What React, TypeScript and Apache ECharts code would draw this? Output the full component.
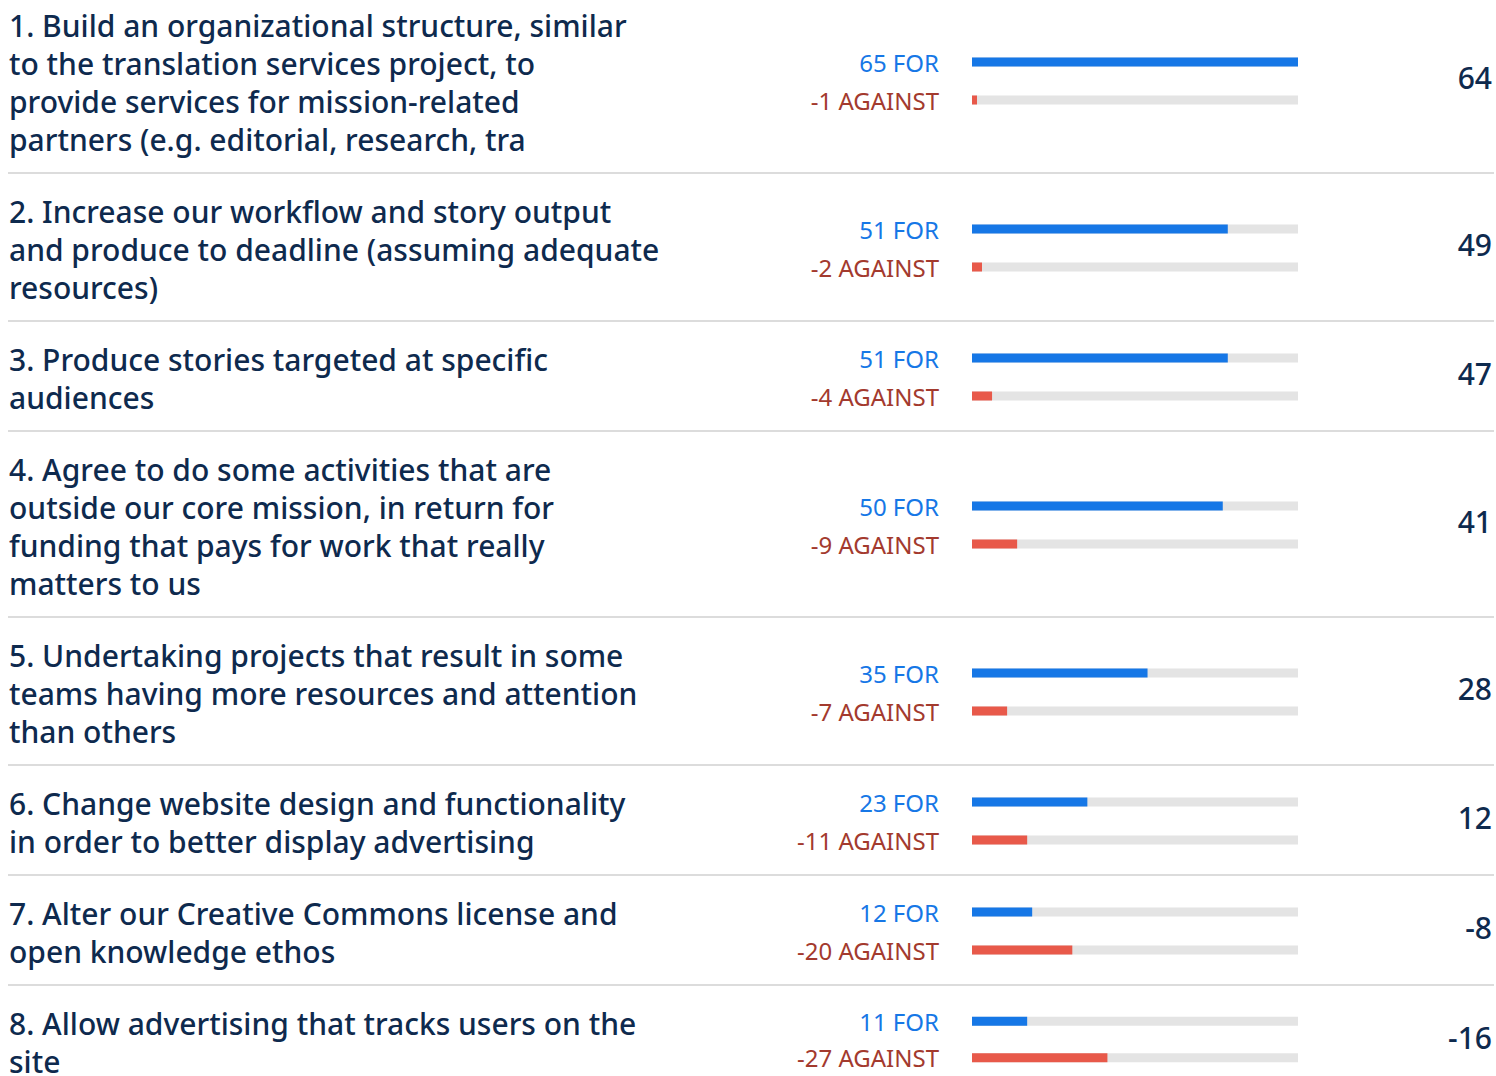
import React, { useEffect, useRef } from 'react';
import * as echarts from 'echarts';

const questions = [
  '1. Build an organizational structure, similar\nto the translation services project, to\nprovide services for mission-related\npartners (e.g. editorial, research, tra',
  '2. Increase our workflow and story output\nand produce to deadline (assuming adequate\nresources)',
  '3. Produce stories targeted at specific\naudiences',
  '4. Agree to do some activities that are\noutside our core mission, in return for\nfunding that pays for work that really\nmatters to us',
  '5. Undertaking projects that result in some\nteams having more resources and attention\nthan others',
  '6. Change website design and functionality\nin order to better display advertising',
  '7. Alter our Creative Commons license and\nopen knowledge ethos',
  '8. Allow advertising that tracks users on the\nsite',
];
const forVotes = [65, 51, 51, 50, 35, 23, 12, 11];
const againstVotes = [1, 2, 4, 9, 7, 11, 20, 27];
const voteCategories = ['FOR', 'AGAINST'];
const maxVotes = 65;

const FONT = '"Noto Sans", "Open Sans", sans-serif';
const NAVY = '#0e2a4e';
const BLUE = '#1677e6';
const RED = '#e8594a';
const DARKRED = '#a33a2e';
const TRACK = '#e4e4e4';

const LINE_H = 38;
const PAD_TOP = 19;
const PAD_BOTTOM = 15;
const START_Y = -13;

export default function App() {
  const ref = useRef<HTMLDivElement>(null);
  useEffect(() => {
    document.body.style.margin = '0';
    const chart = echarts.init(ref.current!, null, { renderer: 'svg' });

    const tops: number[] = [];
    const heights: number[] = [];
    let y = START_Y;
    questions.forEach((q) => {
      const n = q.split('\n').length;
      const h = PAD_TOP + n * LINE_H + PAD_BOTTOM;
      tops.push(y);
      heights.push(h);
      y += h;
    });

    const grids: any[] = [];
    const xAxes: any[] = [];
    const yAxes: any[] = [];
    const series: any[] = [];
    const graphics: any[] = [];

    questions.forEach((q, i) => {
      const cy = tops[i] + heights[i] / 2;
      grids.push({ left: 972, width: 326, top: cy - 37, height: 76 });
      xAxes.push({ type: 'value', gridIndex: i, min: 0, max: maxVotes, show: false });
      yAxes.push({
        type: 'category',
        gridIndex: i,
        data: voteCategories,
        inverse: true,
        axisLine: { show: false },
        axisTick: { show: false },
        splitLine: { show: false },
        axisLabel: {
          margin: 33,
          formatter: (_v: string, idx: number) =>
            idx === 0 ? `{f|${forVotes[i]} FOR}` : `{a|-${againstVotes[i]} AGAINST}`,
          rich: {
            f: { color: BLUE, fontSize: 24, fontFamily: FONT },
            a: { color: DARKRED, fontSize: 24, fontFamily: FONT },
          },
        },
      });
      series.push({
        type: 'bar',
        xAxisIndex: i,
        yAxisIndex: i,
        barWidth: 9,
        silent: true,
        showBackground: true,
        backgroundStyle: { color: TRACK },
        data: [
          { value: forVotes[i], itemStyle: { color: BLUE } },
          { value: againstVotes[i], itemStyle: { color: RED } },
        ],
      });
      graphics.push({
        type: 'text',
        left: 9,
        top: tops[i] + PAD_TOP,
        style: {
          text: q,
          fill: NAVY,
          font: `500 30px ${FONT}`,
          lineHeight: LINE_H,
        },
      });
      graphics.push({
        type: 'text',
        right: 4,
        top: cy - 18,
        style: {
          text: String(forVotes[i] - againstVotes[i]),
          fill: NAVY,
          font: `500 30px ${FONT}`,
          textAlign: 'right',
        },
      });
      if (i > 0) {
        graphics.push({
          type: 'line',
          shape: { x1: 8, y1: tops[i], x2: 1494, y2: tops[i] },
          style: { stroke: '#dcdcdc', lineWidth: 2 },
        });
      }
    });

    chart.setOption({
      animation: false,
      backgroundColor: '#ffffff',
      grid: grids,
      xAxis: xAxes,
      yAxis: yAxes,
      series,
      graphic: graphics,
    });
    return () => chart.dispose();
  }, []);
  return <div ref={ref} style={{ width: 1496, height: 1076 }} />;
}
